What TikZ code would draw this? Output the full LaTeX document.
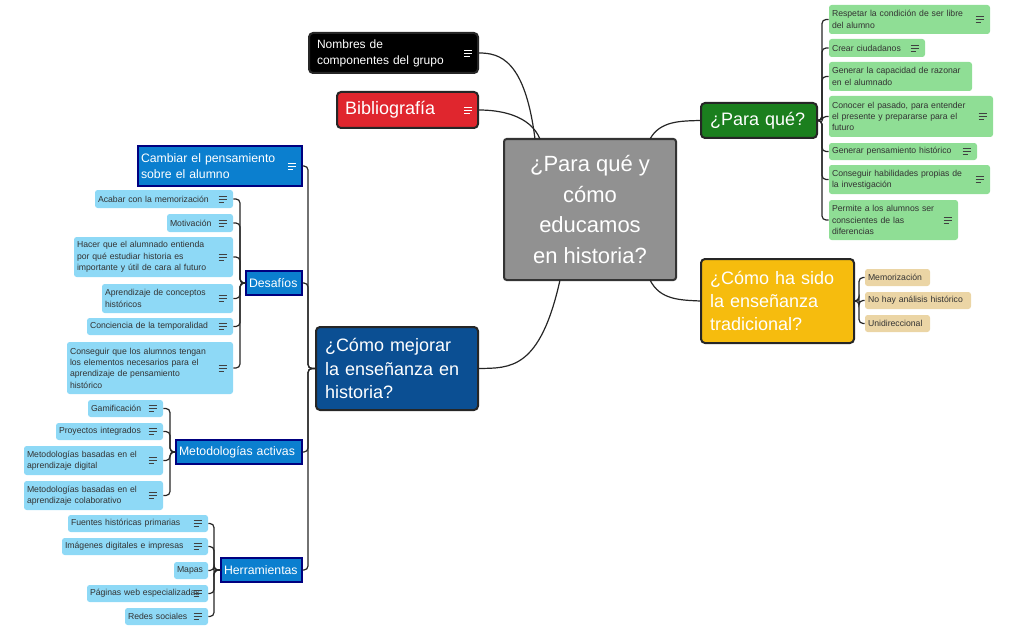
\documentclass[tikz,border=0pt]{standalone}
\usepackage{fontspec}
\setmainfont{Liberation Sans}
\definecolor{tanc}{HTML}{EBD5A5}
\definecolor{yel}{HTML}{F6BC0E}
\definecolor{gl}{HTML}{8FDE95}
\definecolor{bl}{HTML}{8ED9F6}
\definecolor{bt}{HTML}{0B7FCF}
\definecolor{db}{HTML}{0B4F93}
\definecolor{gr}{HTML}{1B7F1E}
\definecolor{rd}{HTML}{E0262E}
\begin{document}
\begin{tikzpicture}[x=0.75pt,y=-0.75pt,
  conn/.style={draw=black!85,line width=0.9pt,rounded corners=3pt},
  box/.style={rounded corners=2pt,inner ysep=0pt,align=left,font=\fontsize{6.5}{8.5}\selectfont,text=black!80},
  gleaf/.style={box,fill=gl},
  tleaf/.style={box,fill=tanc},
  bleaf/.style={box,fill=bl},
  btopic/.style={rounded corners=0pt,inner ysep=0pt,align=left,fill=bt,draw=blue!50!black,line width=0.8pt,text=white,font=\fontsize{9.2}{11.5}\selectfont},
  big/.style={rounded corners=3pt,inner ysep=0pt,align=left,draw=black!85,line width=1.5pt,text=white,font=\fontsize{13.5}{17.5}\selectfont}]
\path[use as bounding box] (0,0) rectangle (1019,631);
\newcommand\bx[8][6]{\node[#7,inner xsep={#1*0.375pt},minimum width={(#5-#3)*0.75pt},text width={(#5-#3-#1)*0.75pt},minimum height={(#6-#4)*0.75pt}] (#2) at ({(#3+#5)/2},{(#4+#6)/2}) {\raggedright\hyphenpenalty=10000 #8};}
\newcommand\ic[2][black!75]{\draw[#1,line width=0.6pt] ([xshift=-11pt,yshift=2.2pt]#2.east) -- ++(6pt,0) ([xshift=-11pt]#2.east) -- ++(6pt,0) ([xshift=-11pt,yshift=-2.2pt]#2.east) -- ++(4pt,0);}
% center
\node[rounded corners=2pt,fill=black!43,draw=black!80,line width=1.5pt,minimum width=129pt,minimum height=105.75pt,align=center,text=white,font=\fontsize{16.5}{23}\selectfont] (c) at (590,209.5) {¿Para qué y\\cómo\\educamos\\en historia?};
% main topics
\bx[16]{nom}{309}{33}{478}{73}{big,fill=black,font=\fontsize{9}{12}\selectfont}{Nombres de\\componentes del grupo}
\ic[white]{nom}
\bx[16]{bib}{337}{92}{478}{128}{big,fill=rd}{Bibliografía}
\ic[white]{bib}
\bx[18]{pq}{701}{103}{817}{138}{big,fill=gr}{¿Para qué?}
\bx[18]{tr}{701}{259}{854}{343}{big,fill=yel}{¿Cómo ha sido\\la enseñanza\\tradicional?}
\bx[18]{me}{316}{327}{478}{410}{big,fill=db}{¿Cómo mejorar\\la enseñanza en\\historia?}
\draw[conn] (535,139) .. controls (525,60) and (500,53) .. (nom.east);
\draw[conn] (540,139) .. controls (530,115) and (500,110) .. (bib.east);
\draw[conn] (650,139) .. controls (660,121) and (680,121) .. (pq.west);
\draw[conn] (650,280) .. controls (660,300) and (680,300) .. (tr.west);
\draw[conn] (560,280) .. controls (540,370) and (510,368) .. (me.east);
% green leaves
\bx{g1}{829}{5}{990}{34}{gleaf}{Respetar la condición de ser libre\\del alumno}
\bx{g2}{829}{39}{925}{57}{gleaf}{Crear ciudadanos}
\bx{g3}{829}{62}{972}{91}{gleaf}{Generar la capacidad de razonar\\en el alumnado}
\bx{g4}{829}{96}{993}{137}{gleaf}{Conocer el pasado, para entender\\el presente y prepararse para el\\futuro}
\bx{g5}{829}{143}{977}{160}{gleaf}{Generar pensamiento histórico}
\bx{g6}{829}{165}{990}{194}{gleaf}{Conseguir habilidades propias de\\la investigación}
\bx{g7}{829}{200}{958}{240}{gleaf}{Permite a los alumnos ser\\conscientes de las\\diferencias}
\foreach \n in {g1,g2,g4,g5,g6,g7}{\ic{\n}}
\foreach \n in {g1,g2,g3,g4,g5,g6,g7}{\draw[conn] (pq.east) -- (822,120.5) |- (\n.west);}
% tan leaves
\bx{t1}{865}{269}{930}{286}{tleaf}{Memorización}
\bx{t2}{865}{292}{971}{309}{tleaf}{No hay análisis histórico}
\bx{t3}{865}{315}{930}{332}{tleaf}{Unidireccional}
\foreach \n in {t1,t2,t3}{\draw[conn] (tr.east) -- (859,301) |- (\n.west);}
% blue topics
\bx{cp}{138}{146}{302}{186}{btopic}{Cambiar el pensamiento\\sobre el alumno}
\ic[white]{cp}
\bx{de}{246}{271}{302}{295}{btopic}{Desafíos}
\bx{ma}{176}{440}{302}{464}{btopic}{Metodologías activas}
\bx{he}{221}{558}{302}{582}{btopic}{Herramientas}
\foreach \n in {cp,de,ma,he}{\draw[conn] (me.west) -- (308,368.5) |- (\n.east);}
% desafios leaves
\bx{d1}{95}{190}{233}{208}{bleaf}{Acabar con la memorización}
\bx{d2}{167}{214}{233}{232}{bleaf}{Motivación}
\bx{d3}{74}{237}{233}{277}{bleaf}{Hacer que el alumnado entienda\\por qué estudiar historia es\\importante y útil de cara al futuro}
\bx{d4}{102}{284}{233}{313}{bleaf}{Aprendizaje de conceptos\\históricos}
\bx{d5}{87}{318}{233}{335}{bleaf}{Conciencia de la temporalidad}
\bx{d6}{67}{342}{233}{394}{bleaf}{Conseguir que los alumnos tengan\\los elementos necesarios para el\\aprendizaje de pensamiento\\histórico}
\foreach \n in {d1,d2,d3,d4,d5,d6}{\ic{\n}\draw[conn] (de.west) -- (240,283) |- (\n.east);}
% metodologias leaves
\bx{m1}{88}{400}{163}{417}{bleaf}{Gamificación}
\bx{m2}{56}{423}{163}{440}{bleaf}{Proyectos integrados}
\bx{m3}{24}{446}{163}{475}{bleaf}{Metodologías basadas en el\\aprendizaje digital}
\bx{m4}{24}{481}{163}{510}{bleaf}{Metodologías basadas en el\\aprendizaje colaborativo}
\foreach \n in {m1,m2,m3,m4}{\ic{\n}\draw[conn] (ma.west) -- (170,452) |- (\n.east);}
% herramientas leaves
\bx{h1}{68}{515}{208}{532}{bleaf}{Fuentes históricas primarias}
\bx{h2}{62}{538}{208}{555}{bleaf}{Imágenes digitales e impresas}
\bx{h3}{174}{562}{208}{579}{bleaf}{Mapas}
\bx{h4}{87}{585}{208}{602}{bleaf}{Páginas web especializadas}
\bx{h5}{125}{608}{208}{625}{bleaf}{Redes sociales}
\foreach \n in {h1,h2,h4,h5}{\ic{\n}}
\foreach \n in {h1,h2,h3,h4,h5}{\draw[conn] (he.west) -- (214,570) |- (\n.east);}
\end{tikzpicture}
\end{document}
